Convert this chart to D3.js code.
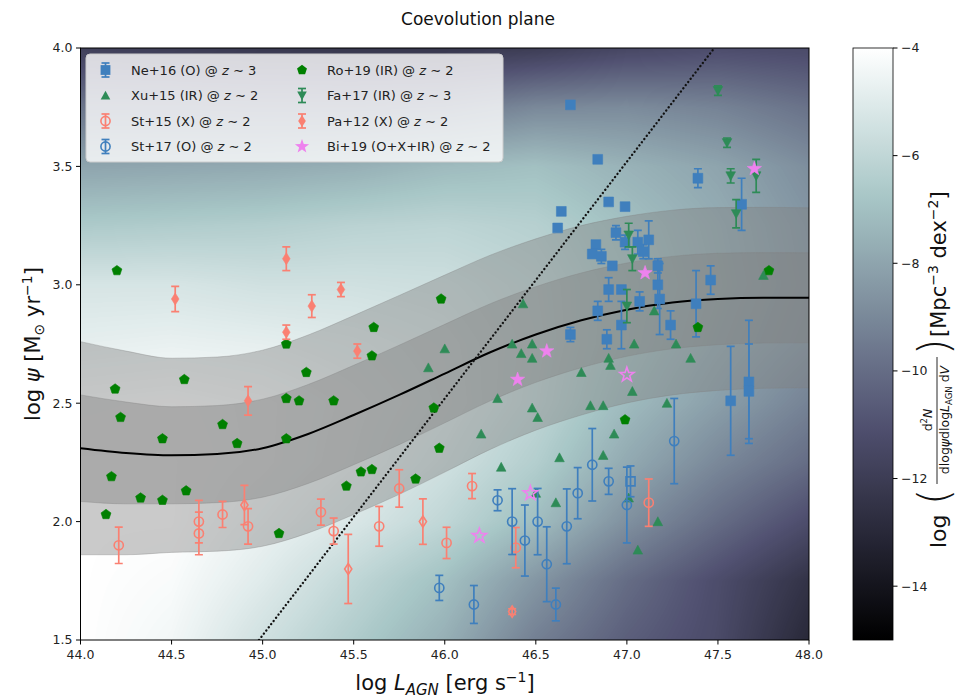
<!DOCTYPE html>
<html><head><meta charset="utf-8">
<script src="https://cdn.jsdelivr.net/npm/d3@7"></script>
<style>body{margin:0;background:#fff;} svg{display:block;font-family:"DejaVu Sans",sans-serif;}</style>
</head><body>
<svg id="chart" width="966" height="698"></svg>
<script>
// ---------------- DATA ----------------
const xTicks = [44.0, 44.5, 45.0, 45.5, 46.0, 46.5, 47.0, 47.5, 48.0];
const yTicks = [1.5, 2.0, 2.5, 3.0, 3.5, 4.0];
const cbTicks = [-4, -6, -8, -10, -12, -14];

// background density grid: log(d2N/dlogpsi dlogL dV), rows = psi, columns = L
const densL = [44, 44.5, 45, 45.5, 46, 46.5, 47, 47.5, 48];
const densPsi = [1.5, 1.75, 2.0, 2.25, 2.5, 2.75, 3.0, 3.25, 3.5, 3.75, 4.0];
const densVals = [
  [-4.0, -4.4, -5.5, -6.5, -7.6, -9.3, -10.5, -11.3, -13.0],
  [-4.0, -4.2, -5.0, -6.0, -7.0, -8.5, -10.0, -11.2, -12.5],
  [-4.0, -4.0, -4.6, -5.2, -6.0, -7.1, -8.7, -10.0, -11.2],
  [-4.0, -4.0, -4.3, -4.8, -5.5, -6.4, -7.8, -9.0, -10.0],
  [-4.2, -4.1, -4.3, -4.7, -5.2, -6.0, -7.2, -8.2, -9.2],
  [-4.8, -4.7, -4.8, -5.0, -5.3, -5.9, -6.9, -7.8, -8.6],
  [-5.3, -5.3, -5.5, -5.5, -5.6, -6.0, -6.8, -7.6, -8.4],
  [-6.6, -6.5, -6.4, -6.2, -6.1, -6.3, -7.0, -7.7, -8.5],
  [-8.0, -7.9, -7.8, -7.6, -7.2, -7.0, -7.5, -8.0, -8.8],
  [-9.7, -9.7, -9.8, -9.8, -9.6, -9.0, -8.9, -9.2, -9.8],
  [-11.8, -12.0, -12.2, -12.3, -12.3, -12.0, -11.5, -11.2, -11.3]
];

// main-sequence relation (mean and sigma)
const bandL = [44.0, 44.25, 44.5, 44.75, 45.0, 45.25, 45.5, 45.75, 46.0, 46.25, 46.5, 46.75, 47.0, 47.25, 47.5, 47.75, 48.0];
const bandMean = [2.31, 2.29, 2.28, 2.285, 2.31, 2.37, 2.45, 2.535, 2.625, 2.715, 2.79, 2.85, 2.895, 2.925, 2.94, 2.945, 2.945];
const bandSigma = [0.225, 0.215, 0.205, 0.205, 0.207, 0.209, 0.21, 0.21, 0.208, 0.205, 0.202, 0.2, 0.197, 0.195, 0.193, 0.191, 0.19];

// dotted line endpoints [L, psi]
const dotLine = [[44.98, 1.5], [47.48, 4.0]];

// series: [logL, logpsi, err]
const ne16 = [
  [46.69,3.76,0],[46.84,3.53,0],[46.90,3.35,0],[46.99,3.33,0],[46.64,3.31,0],[46.62,3.24,0],
  [47.39,3.45,0.04],[46.94,3.22,0.03],[46.99,3.18,0.03],[47.06,3.18,0.05],[47.12,3.19,0.08],
  [46.83,3.17,0],[46.81,3.13,0],[46.86,3.12,0.03],[47.09,3.14,0.03],[46.92,3.08,0],[47.17,3.08,0.03],
  [46.90,2.98,0.05],[46.97,2.98,0],[47.17,3.00,0.10],[47.18,2.94,0.15],[47.07,2.93,0.04],
  [46.84,2.89,0.04],[46.97,2.83,0.10],[47.24,2.83,0.06],[46.69,2.79,0.03],[46.89,2.77,0.04],
  [47.38,2.92,0.14],[47.46,3.02,0.06],[47.63,3.34,0.11],[47.57,2.51,0.23],[47.67,2.59,0.26],[47.67,2.55,0.20]
];
const xu15 = [
  [46.00,2.73],[45.91,2.65],[46.37,2.75],[46.48,2.75],[46.42,2.71],[46.48,2.69],[46.75,2.63],
  [46.29,2.52],[46.48,2.48],[46.51,2.44],[46.80,2.49],[46.20,2.37],[46.63,2.27],[46.31,2.23],
  [47.15,2.89],[47.04,2.75],[47.27,2.75],[47.35,2.69],[46.90,2.69],[46.91,2.66],[47.03,2.55],
  [46.87,2.49],[47.22,2.50],[46.43,2.92],[47.75,3.04],[46.93,2.37],[46.87,2.28],[46.50,2.12],
  [46.61,2.08],[47.01,2.10],[47.17,2.00],[47.06,1.88]
];
const st15 = [
  [44.21,1.90,0.077],[44.65,2.00,0.09],[44.65,1.95,0.09],[44.78,2.03,0.055],[44.92,1.98,0.075],
  [45.32,2.04,0.055],[45.39,1.96,0.055],[45.64,1.98,0.084],[45.75,2.14,0.079],[46.01,1.91,0.066],
  [46.15,2.15,0.053],[46.39,1.89,0.085],[47.12,2.08,0.10]
];
const st15d = [[44.90,2.07,0.083],[45.47,1.80,0.146],[45.88,2.00,0.096],[46.37,1.62,0.012]];
const st17 = [
  [45.97,1.72,0.053],[46.16,1.65,0.08],[46.29,2.09,0.044],[46.37,2.00,0.139],[46.44,1.92,0.15],
  [46.51,2.00,0.14],[46.56,1.82,0.158],[46.61,1.65,0.069],[46.67,1.98,0.158],[46.73,2.12,0.108],
  [46.81,2.24,0.153],[46.90,2.17,0.055],[47.00,2.07,0.16],[47.26,2.34,0.18]
];
const st17sq = [[47.02,2.17,0.065]];
const ro19 = [
  [44.20,3.06],[44.19,2.56],[44.22,2.44],[44.45,2.35],[44.57,2.60],[44.78,2.41],[44.86,2.33],
  [45.13,2.75],[45.13,2.52],[45.13,2.35],[45.20,2.51],[45.24,2.63],[45.39,2.51],[44.17,2.19],
  [44.14,2.03],[44.33,2.10],[44.45,2.09],[44.58,2.13],[45.09,1.95],[45.46,2.15],[45.54,2.21],
  [45.60,2.22],[45.84,2.18],[45.97,2.31],[45.98,2.94],[45.61,2.82],[45.60,2.70],[45.94,2.48],
  [46.99,2.43],[47.39,2.82],[47.78,3.06]
];
const fa17 = [
  [47.50,3.82,0.02],[47.55,3.60,0.02],[47.57,3.46,0.03],[47.71,3.46,0.07],[47.60,3.30,0.06],
  [47.01,3.21,0.05],[47.03,3.11,0.05],[47.00,2.91,0.07]
];
const pa12 = [
  [44.52,2.94,0.053],[45.13,3.11,0.05],[45.27,2.91,0.048],[45.43,2.98,0.03],
  [45.13,2.80,0.03],[45.52,2.72,0.03],[44.92,2.51,0.06]
];
const bi19 = [[46.56,2.72],[46.40,2.60],[47.10,3.05],[47.70,3.49]];
const bi19open = [[47.00,2.62],[46.47,2.12],[46.19,1.94]];

const legendLabels = [
  ["Ne+16 (O) @ ", "3"], ["Xu+15 (IR) @ ", "2"], ["St+15 (X) @ ", "2"], ["St+17 (O) @ ", "2"],
  ["Ro+19 (IR) @ ", "2"], ["Fa+17 (IR) @ ", "3"], ["Pa+12 (X) @ ", "2"], ["Bi+19 (O+X+IR) @ ", "2"]
];

// ---------------- STYLE ----------------
const C = {blue:"#3f7fbd", sea:"#2e8b57", green:"#008000", salmon:"#fa8072", violet:"#ee82ee"};
const svg = d3.select("#chart");
const x = d3.scaleLinear().domain([44, 48]).range([80.5, 809]);
const y = d3.scaleLinear().domain([1.5, 4.0]).range([640, 48]);
const cbY = d3.scaleLinear().domain([-15, -4]).range([640, 48]);
const bone = d3.scaleLinear()
  .domain([-15, -15 + 11 * 0.365079, -15 + 11 * 0.746032, -4])
  .range(["#000000", "#515171", "#a7c6c6", "#ffffff"]).clamp(true);

// ---------- background density ----------
function interp1(arr, v) {
  let i = d3.bisectRight(arr, v) - 1;
  i = Math.max(0, Math.min(arr.length - 2, i));
  const t = Math.max(0, Math.min(1, (v - arr[i]) / (arr[i + 1] - arr[i])));
  return [i, t];
}
function dens(L, p) {
  const [i, tx] = interp1(densL, L);
  const [j, ty] = interp1(densPsi, p);
  const a = densVals[j][i], b = densVals[j][i + 1], c = densVals[j + 1][i], d = densVals[j + 1][i + 1];
  return (a * (1 - tx) + b * tx) * (1 - ty) + (c * (1 - tx) + d * tx) * ty;
}
const px0 = x(44), px1 = x(48), py0 = y(4), py1 = y(1.5);
const pw = Math.round(px1 - px0), ph = Math.round(py1 - py0);
const lut = d3.range(256).map(k => d3.rgb(bone(-15 + 11 * k / 255)));
const canvas = document.createElement("canvas");
canvas.width = pw; canvas.height = ph;
const ctx = canvas.getContext("2d");
const img = ctx.createImageData(pw, ph);
for (let j = 0; j < ph; j++) {
  const p = y.invert(py0 + j + 0.5);
  for (let i = 0; i < pw; i++) {
    const L = x.invert(px0 + i + 0.5);
    const v = dens(L, p);
    const k = Math.max(0, Math.min(255, Math.round((v + 15) / 11 * 255)));
    const col = lut[k], o = (j * pw + i) * 4;
    img.data[o] = col.r; img.data[o + 1] = col.g; img.data[o + 2] = col.b; img.data[o + 3] = 255;
  }
}
ctx.putImageData(img, 0, 0);

const defs = svg.append("defs");
defs.append("clipPath").attr("id", "clip").append("rect")
  .attr("x", px0).attr("y", py0).attr("width", px1 - px0).attr("height", py1 - py0);

svg.append("image").attr("x", px0).attr("y", py0).attr("width", px1 - px0).attr("height", py1 - py0)
  .attr("preserveAspectRatio", "none").attr("href", canvas.toDataURL());

const plot = svg.append("g").attr("clip-path", "url(#clip)");

// ---------- bands ----------
const bp = bandL.map((L, i) => ({L, m: bandMean[i], s: bandSigma[i]}));
const area2 = d3.area().x(d => x(d.L)).y0(d => y(d.m - 2 * d.s)).y1(d => y(d.m + 2 * d.s)).curve(d3.curveMonotoneX);
const area1 = d3.area().x(d => x(d.L)).y0(d => y(d.m - d.s)).y1(d => y(d.m + d.s)).curve(d3.curveMonotoneX);
plot.append("path").attr("d", area2(bp)).attr("fill", "#808080").attr("fill-opacity", 0.42)
  .attr("stroke", "#808080").attr("stroke-opacity", 0.35).attr("stroke-width", 1);
plot.append("path").attr("d", area1(bp)).attr("fill", "#808080").attr("fill-opacity", 0.42)
  .attr("stroke", "#808080").attr("stroke-opacity", 0.35).attr("stroke-width", 1);
plot.append("path").attr("d", d3.line().x(d => x(d.L)).y(d => y(d.m)).curve(d3.curveMonotoneX)(bp))
  .attr("fill", "none").attr("stroke", "#000").attr("stroke-width", 2);

// dotted line
plot.append("path").attr("d", d3.line().x(d => x(d[0])).y(d => y(d[1]))(dotLine))
  .attr("fill", "none").attr("stroke", "#111").attr("stroke-width", 2.3)
  .attr("stroke-dasharray", "0.1 3.9").attr("stroke-linecap", "round");

// ---------- marker paths ----------
const sq = s => `M${-s},${-s}H${s}V${s}H${-s}Z`;
const triUp = s => `M0,${-s}L${s},${s * 0.85}L${-s},${s * 0.85}Z`;
const triDown = s => `M0,${s}L${s},${-s * 0.85}L${-s},${-s * 0.85}Z`;
const diamond = (w, h) => `M0,${-h}L${w},0L0,${h}L${-w},0Z`;
function polyStar(n, R, r) {
  const pts = [];
  const m = r ? 2 * n : n;
  for (let k = 0; k < m; k++) {
    const rad = (r && k % 2) ? r : R;
    const a = -Math.PI / 2 + k * Math.PI * 2 / m;
    pts.push([rad * Math.cos(a), rad * Math.sin(a)]);
  }
  return "M" + pts.map(p => p[0].toFixed(2) + "," + p[1].toFixed(2)).join("L") + "Z";
}
const pent = polyStar(5, 5.2, 0);
const star = polyStar(5, 7.5, 3.0);

function errbar(g, cx, cy0, cy1, color, cap, lw) {
  g.append("line").attr("x1", cx).attr("x2", cx).attr("y1", cy0).attr("y2", cy1)
    .attr("stroke", color).attr("stroke-width", lw);
  [cy0, cy1].forEach(cy => g.append("line").attr("x1", cx - cap).attr("x2", cx + cap)
    .attr("y1", cy).attr("y2", cy).attr("stroke", color).attr("stroke-width", lw));
}
function drawSeries(data, path, color, opts) {
  const g = plot.append("g");
  data.forEach(d => {
    if (d[2]) errbar(g, x(d[0]), y(d[1] - d[2]), y(d[1] + d[2]), color, 4, 1.7);
  });
  g.selectAll("path.m").data(data).join("path").attr("class", "m")
    .attr("transform", d => `translate(${x(d[0])},${y(d[1])})`)
    .attr("d", path)
    .attr("fill", opts.open ? "none" : color)
    .attr("stroke", color).attr("stroke-width", opts.open ? 1.6 : 0.6);
}
function drawCircles(data, color) {
  const g = plot.append("g");
  data.forEach(d => { if (d[2]) errbar(g, x(d[0]), y(d[1] - d[2]), y(d[1] + d[2]), color, 4, 1.7); });
  g.selectAll("circle").data(data).join("circle")
    .attr("cx", d => x(d[0])).attr("cy", d => y(d[1])).attr("r", 4.6)
    .attr("fill", "none").attr("stroke", color).attr("stroke-width", 1.6);
}

drawSeries(ne16, sq(4.9), C.blue, {});
drawSeries(xu15, triUp(4.8), C.sea, {});
drawCircles(st15, C.salmon);
drawSeries(st15d, diamond(3.6, 5.6), C.salmon, {open: true});
drawCircles(st17, C.blue);
drawSeries(st17sq, sq(4.5), C.blue, {open: true});
drawSeries(ro19, pent, C.green, {});
drawSeries(fa17, triDown(4.8), C.sea, {});
drawSeries(pa12, diamond(3.8, 6), C.salmon, {});
drawSeries(bi19, star, C.violet, {});
drawSeries(bi19open, star, C.violet, {open: true});

// ---------- axes ----------
svg.append("rect").attr("x", px0).attr("y", py0).attr("width", px1 - px0).attr("height", py1 - py0)
  .attr("fill", "none").attr("stroke", "#000").attr("stroke-width", 1);
const xa = svg.append("g");
xTicks.forEach(t => {
  xa.append("line").attr("x1", x(t)).attr("x2", x(t)).attr("y1", py1).attr("y2", py1 + 4.5).attr("stroke", "#000");
  xa.append("text").attr("x", x(t)).attr("y", py1 + 19).attr("text-anchor", "middle")
    .attr("font-size", 12.5).attr("fill", "#222").text(t.toFixed(1));
});
const ya = svg.append("g");
yTicks.forEach(t => {
  ya.append("line").attr("x1", px0 - 4.5).attr("x2", px0).attr("y1", y(t)).attr("y2", y(t)).attr("stroke", "#000");
  ya.append("text").attr("x", px0 - 8).attr("y", y(t)).attr("dy", "0.35em").attr("text-anchor", "end")
    .attr("font-size", 12.5).attr("fill", "#222").text(t.toFixed(1));
});

// title
svg.append("text").attr("x", 478).attr("y", 25).attr("text-anchor", "middle")
  .attr("font-size", 17).attr("fill", "#111").text("Coevolution plane");

// x label
const xl = svg.append("text").attr("x", 445).attr("y", 690).attr("text-anchor", "middle")
  .attr("font-size", 21).attr("fill", "#111");
xl.append("tspan").text("log ");
xl.append("tspan").attr("font-style", "italic").text("L");
xl.append("tspan").attr("font-style", "italic").attr("font-size", 15).attr("dy", 5).text("AGN");
xl.append("tspan").attr("dy", -5).text(" [erg s");
xl.append("tspan").attr("font-size", 14).attr("dy", -8).text("−1");
xl.append("tspan").attr("dy", 8).text("]");

// y label
const yl = svg.append("text").attr("transform", "translate(40,344) rotate(-90)").attr("text-anchor", "middle")
  .attr("font-size", 21).attr("fill", "#111");
yl.append("tspan").text("log ");
yl.append("tspan").attr("font-style", "italic").text("ψ");
yl.append("tspan").text(" [M");
yl.append("tspan").attr("font-size", 14).attr("dy", 4).text("⊙");
yl.append("tspan").attr("dy", -4).text(" yr");
yl.append("tspan").attr("font-size", 14).attr("dy", -8).text("−1");
yl.append("tspan").attr("dy", 8).text("]");

// ---------- colorbar ----------
const cbx = 853, cbw = 40;
const grad = defs.append("linearGradient").attr("id", "cbgrad").attr("x1", 0).attr("y1", 1).attr("x2", 0).attr("y2", 0);
d3.range(0, 1.0001, 0.02).forEach(t => grad.append("stop").attr("offset", t).attr("stop-color", bone(-15 + 11 * t)));
svg.append("rect").attr("x", cbx).attr("y", cbY(-4)).attr("width", cbw).attr("height", cbY(-15) - cbY(-4))
  .attr("fill", "url(#cbgrad)").attr("stroke", "#000").attr("stroke-width", 0.8);
cbTicks.forEach(t => {
  svg.append("line").attr("x1", cbx + cbw).attr("x2", cbx + cbw + 4.5).attr("y1", cbY(t)).attr("y2", cbY(t)).attr("stroke", "#000");
  svg.append("text").attr("x", cbx + cbw + 8).attr("y", cbY(t)).attr("dy", "0.35em")
    .attr("font-size", 12.5).attr("fill", "#222").text("−" + Math.abs(t));
});
// colorbar label (rotated)
const cl = svg.append("g").attr("transform", "translate(935,362) rotate(-90)").attr("fill", "#111");
cl.append("text").attr("x", -186).attr("y", 11).attr("font-size", 22).text("log");
cl.append("text").attr("x", -143).attr("y", 14).attr("font-size", 42).attr("font-weight", 200).text("(");
cl.append("line").attr("x1", -122).attr("x2", 5).attr("y1", 2).attr("y2", 2).attr("stroke", "#111").attr("stroke-width", 0.9);
const num = cl.append("text").attr("x", -58).attr("y", -3).attr("text-anchor", "middle").attr("font-size", 12.5);
num.append("tspan").text("d");
num.append("tspan").attr("font-size", 8.5).attr("dy", -5).text("2");
num.append("tspan").attr("font-style", "italic").attr("dy", 5).text("N");
const den = cl.append("text").attr("x", -58).attr("y", 14).attr("text-anchor", "middle").attr("font-size", 12.5);
den.append("tspan").text("dlog");
den.append("tspan").attr("font-style", "italic").text("ψ");
den.append("tspan").text("dlog");
den.append("tspan").attr("font-style", "italic").text("L");
den.append("tspan").attr("font-size", 8.5).attr("dy", 3).text("AGN");
den.append("tspan").attr("dy", -3).text(" d");
den.append("tspan").attr("font-style", "italic").text("V");
cl.append("text").attr("x", 7).attr("y", 14).attr("font-size", 42).attr("font-weight", 200).text(")");
const br = cl.append("text").attr("x", 25).attr("y", 11).attr("font-size", 21);
br.append("tspan").text("[Mpc");
br.append("tspan").attr("font-size", 14).attr("dy", -8).text("−3");
br.append("tspan").attr("dy", 8).text(" dex");
br.append("tspan").attr("font-size", 14).attr("dy", -8).text("−2");
br.append("tspan").attr("dy", 8).text("]");

// ---------- legend ----------
const lg = svg.append("g");
lg.append("rect").attr("x", 86).attr("y", 54).attr("width", 417).attr("height", 108).attr("rx", 4)
  .attr("fill", "#fff").attr("fill-opacity", 0.8).attr("stroke", "#ccc").attr("stroke-width", 1);
const legMarkers = [
  {path: sq(4.9), color: C.blue, err: true},
  {path: triUp(4.8), color: C.sea},
  {circle: true, color: C.salmon, err: true},
  {circle: true, color: C.blue, err: true},
  {path: pent, color: C.green},
  {path: triDown(4.8), color: C.sea, err: true},
  {path: diamond(3.8, 6), color: C.salmon, err: true},
  {path: star, color: C.violet}
];
const rowsY = [70, 95.5, 121, 146.5];
legendLabels.forEach((lab, i) => {
  const col = Math.floor(i / 4), row = i % 4;
  const mx = col ? 302 : 105.5, tx = col ? 327 : 131, cy = rowsY[row];
  const m = legMarkers[i];
  if (m.err) errbar(lg, mx, cy - 7, cy + 7, m.color, 4, 1.7);
  if (m.circle) lg.append("circle").attr("cx", mx).attr("cy", cy).attr("r", 4.6).attr("fill", "none")
    .attr("stroke", m.color).attr("stroke-width", 1.6);
  else lg.append("path").attr("transform", `translate(${mx},${cy})`).attr("d", m.path).attr("fill", m.color);
  const t = lg.append("text").attr("x", tx).attr("y", cy).attr("dy", "0.35em").attr("font-size", 13).attr("fill", "#222");
  t.append("tspan").text(lab[0]);
  t.append("tspan").attr("font-style", "italic").text("z");
  t.append("tspan").text(" ∼ " + lab[1]);
});
</script>
</body></html>
